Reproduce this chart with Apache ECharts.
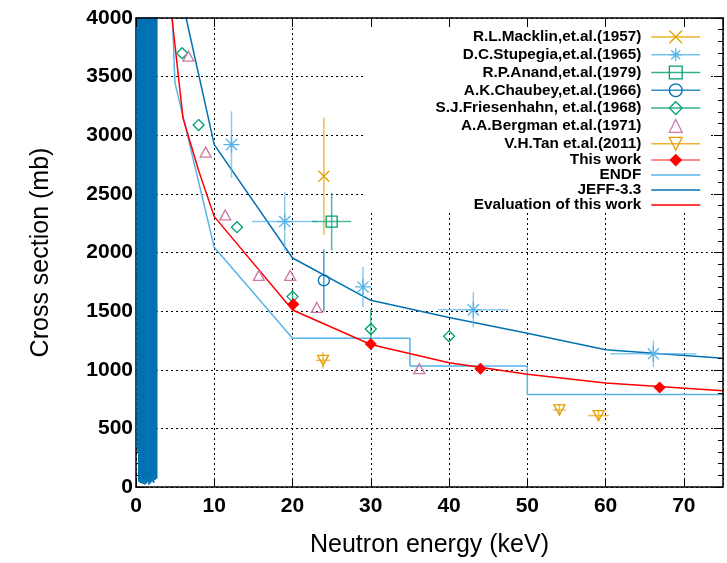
<!DOCTYPE html>
<html><head><meta charset="utf-8">
<script src="https://cdn.jsdelivr.net/npm/echarts@6/dist/echarts.min.js"></script>
<style>html,body{margin:0;padding:0;background:#fff}#c{width:727px;height:563px}</style>
</head><body><div id="c"></div>
<script>
// ---------- data ----------
const xTickLabels = [0, 10, 20, 30, 40, 50, 60, 70];
const yTickLabels = [0, 500, 1000, 1500, 2000, 2500, 3000, 3500, 4000];

// R.L.Macklin (1957)
const macklinE = [24.0], macklinXS = [2650], macklinDX = [0], macklinDY = [500];
// D.C.Stupegia (1965)
const stupE = [12.2, 19.0, 29.0, 43.1, 66.1];
const stupXS = [2920, 2264, 1706, 1511, 1136];
const stupDX = [0, 4.2, 0, 4.5, 5.5];
const stupDY = [283, 250, 170, 150, 113];
// R.P.Anand (1979)
const anandE = [25.0], anandXS = [2264], anandDX = [2.5], anandDY = [245];
// A.K.Chaubey (1966)
const chaubeyE = [24.0], chaubeyXS = [1762], chaubeyDX = [0], chaubeyDY = [265];
// S.J.Friesenhahn (1968)
const friesE = [5.9, 8.0, 12.9, 20.0, 30.0, 40.0];
const friesXS = [3700, 3087, 2216, 1624, 1347, 1285];
const friesDX = [0, 0, 0, 0, 0, 0];
const friesDY = [0, 0, 0, 60, 170, 0];
// A.A.Bergman (1971)
const bergE = [6.7, 8.9, 11.4, 15.7, 19.7, 23.1, 36.2];
const bergXS = [3675, 2856, 2320, 1804, 1804, 1531, 1009];
// V.H.Tan (2011)
const tanE = [23.9, 54.1, 59.1], tanXS = [1080, 657, 609];
const tanDX = [0.9, 0.8, 1.3], tanDY = [70, 50, 50];
// This work
const thisE = [20.1, 30.0, 44.0, 66.9], thisXS = [1559, 1220, 1009, 848];
const thisDX = [0, 0, 0, 0], thisDY = [35, 30, 25, 20];

// ENDF
const endfE = [4.5, 4.65, 4.98, 8.5, 10, 20, 35, 35, 50, 50, 75];
const endfXS = [4250, 4000, 3447, 2461, 2044, 1268, 1268, 1032, 1032, 789, 789];
// JEFF-3.3 resolved resonance region (peaks and dips)
const jeffResE = [0.10,0.15,0.20,0.25,0.30,0.35,0.40,0.45,0.50,0.55,0.60,0.65,0.70,0.75,0.80,0.85,0.90,0.95,1.00,1.05,1.10,1.15,1.20,1.25,1.30,1.35,1.40,1.45,1.50,1.55,1.60,1.65,1.70,1.75,1.80,1.85,1.90,1.95,2.00,2.05,2.10,2.15,2.20,2.25,2.30,2.35,2.40,2.45,2.50,2.55,2.60,2.65,2.68];
const jeffResXS = [9000,330,9000,300,9000,45,9000,60,9000,35,9000,80,9000,30,9000,50,9000,25,9000,70,9000,20,9000,45,9000,30,9000,85,9000,40,9000,20,9000,55,9000,30,9000,90,9000,45,9000,70,9000,35,9000,110,9000,60,9000,80,9000,70,9000];
// JEFF-3.3 smooth part
const jeffE = [5.5, 6.4, 10, 20, 30, 40, 50, 60, 75];
const jeffXS = [4270, 4000, 2920, 1953, 1592, 1446, 1311, 1170, 1099];
// Evaluation of this work
const evalE = [4.3, 6, 8, 10, 20, 30, 40, 50, 60, 75];
const evalXS = [4180, 3150, 2700, 2306, 1510, 1215, 1060, 961, 888, 820];

// ---------- style ----------
const C = { orange:'#e69f00', lblue:'#56b4e9', green:'#009e73', dblue:'#0072b2', pink:'#cc79a7', red:'#ff0000' };
const FONT = 'Liberation Sans, Arial, sans-serif';
const SYM = {
  cross: 'path://M0,0L10,10M0,10L10,0',
  star: 'path://M5,0L5,10M0,5L10,5M1.5,1.5L8.5,8.5M1.5,8.5L8.5,1.5',
  square: 'path://M0,0L10,0L10,10L0,10Z',
  circle: 'path://M10,5A5,5,0,1,1,0,5A5,5,0,1,1,10,5Z',
  diamond: 'path://M5,0L10,5L5,10L0,5Z',
  tri: 'path://M5,0L10,9L0,9Z',
  itri: 'path://M0,0L10,0L5,9Z'
};

const pairs = (E, Y) => E.map((e, i) => [e, Y[i]]);

function markerSeries(name, color, sym, size, E, Y, filled) {
  return {
    type: 'line', name, data: pairs(E, Y), z: 5,
    symbol: sym, symbolSize: size, showSymbol: true, showAllSymbol: true,
    itemStyle: { color: filled ? color : 'none', borderColor: color, borderWidth: filled ? 0 : 1.3 },
    lineStyle: { width: 0, color: color },
    emphasis: { disabled: true }, animation: false
  };
}
function errSeries(name, color, E, Y, DX, DY) {
  return {
    type: 'custom', name: name + ' err', z: 4, silent: true, animation: false, clip: true,
    data: E.map((e, i) => [e, Y[i], DX[i], DY[i]]),
    encode: { x: 0, y: 1 },
    renderItem(params, api) {
      const x = api.value(0), y = api.value(1), dx = api.value(2), dy = api.value(3);
      const ch = [];
      const st = { stroke: color, lineWidth: 1.5, opacity: 0.7 };
      if (dy > 0) { const a = api.coord([x, y - dy]), b = api.coord([x, y + dy]);
        ch.push({ type: 'line', shape: { x1: a[0], y1: a[1], x2: b[0], y2: b[1] }, style: st }); }
      if (dx > 0) { const a = api.coord([x - dx, y]), b = api.coord([x + dx, y]);
        ch.push({ type: 'line', shape: { x1: a[0], y1: a[1], x2: b[0], y2: b[1] }, style: st }); }
      return { type: 'group', children: ch };
    }
  };
}
function lineSeries(name, color, data, width) {
  return { type: 'line', name, data, symbol: 'none', showSymbol: false, z: 3,
    lineStyle: { color, width }, itemStyle: { color }, emphasis: { disabled: true }, animation: false };
}

const names = ['R.L.Macklin,et.al.(1957)', 'D.C.Stupegia,et.al.(1965)', 'R.P.Anand,et.al.(1979)',
  'A.K.Chaubey,et.al.(1966)', 'S.J.Friesenhahn, et.al.(1968)', 'A.A.Bergman et.al.(1971)',
  'V.H.Tan et.al.(2011)', 'This work', 'ENDF', 'JEFF-3.3', 'Evaluation of this work'];

const series = [
  lineSeries(names[8], C.lblue, pairs(endfE, endfXS), 1.5),
  lineSeries(names[9], C.dblue, pairs(jeffResE, jeffResXS).concat(pairs(jeffE, jeffXS)), 1.5),
  lineSeries(names[10], C.red, pairs(evalE, evalXS), 1.5),
  errSeries(names[0], C.orange, macklinE, macklinXS, macklinDX, macklinDY),
  errSeries(names[1], C.lblue, stupE, stupXS, stupDX, stupDY),
  errSeries(names[2], C.green, anandE, anandXS, anandDX, anandDY),
  errSeries(names[3], C.dblue, chaubeyE, chaubeyXS, chaubeyDX, chaubeyDY),
  errSeries(names[4], C.green, friesE, friesXS, friesDX, friesDY),
  errSeries(names[6], C.orange, tanE, tanXS, tanDX, tanDY),
  errSeries(names[7], C.red, thisE, thisXS, thisDX, thisDY),
  markerSeries(names[0], C.orange, SYM.cross, 11, macklinE, macklinXS),
  markerSeries(names[1], C.lblue, SYM.star, 16, stupE, stupXS),
  markerSeries(names[2], C.green, SYM.square, 11, anandE, anandXS),
  markerSeries(names[3], C.dblue, SYM.circle, 11, chaubeyE, chaubeyXS),
  markerSeries(names[4], C.green, SYM.diamond, 11, friesE, friesXS),
  markerSeries(names[5], C.pink, SYM.tri, [11, 10], bergE, bergXS),
  markerSeries(names[6], C.orange, SYM.itri, [11, 10], tanE, tanXS),
  markerSeries(names[7], C.red, SYM.diamond, 12, thisE, thisXS, true)
];

const legendData = [
  { name: names[0], lineStyle: { width: 1.5, color: C.orange, opacity: 0.8 }, itemStyle: { borderWidth: 1.3 } },
  { name: names[1], lineStyle: { width: 1.5, color: C.lblue, opacity: 0.8 }, itemStyle: { borderWidth: 1.3 } },
  { name: names[2], lineStyle: { width: 1.5, color: C.green, opacity: 0.8 }, itemStyle: { borderWidth: 1.3 } },
  { name: names[3], lineStyle: { width: 1.5, color: C.dblue, opacity: 0.8 }, itemStyle: { borderWidth: 1.3 } },
  { name: names[4], lineStyle: { width: 1.5, color: C.green, opacity: 0.8 }, itemStyle: { borderWidth: 1.3 } },
  { name: names[5], lineStyle: { width: 0 }, itemStyle: { borderWidth: 1.3 } },
  { name: names[6], lineStyle: { width: 1.5, color: C.orange, opacity: 0.8 }, itemStyle: { borderWidth: 1.3 } },
  { name: names[7], lineStyle: { width: 1.5, color: '#ff6060', opacity: 1 } },
  { name: names[8], lineStyle: { width: 1.5, color: C.lblue, opacity: 1 }, itemStyle: { opacity: 0 } },
  { name: names[9], lineStyle: { width: 1.5, color: C.dblue, opacity: 1 }, itemStyle: { opacity: 0 } },
  { name: names[10], lineStyle: { width: 1.5, color: C.red, opacity: 1 }, itemStyle: { opacity: 0 } }
];

const axisLineStyle = { color: '#000', width: 1.5 };
const gridLine = { show: true, lineStyle: { color: '#000', type: [2, 3], width: 1 } };

const option = {
  animation: false,
  backgroundColor: '#fff',
  grid: { left: 136, top: 18, width: 587, height: 473, containLabel: false },
  xAxis: [
    { type: 'value', min: 0, max: 75, interval: 10, position: 'bottom',
      name: 'Neutron energy (keV)', nameLocation: 'middle', nameGap: 46,
      nameTextStyle: { fontSize: 25, color: '#000', fontFamily: FONT },
      axisLine: { show: true, onZero: false, lineStyle: axisLineStyle },
      axisTick: { show: true, inside: true, length: 9, lineStyle: { color: '#000', width: 1 } },
      axisLabel: { fontSize: 21, fontWeight: 'bold', color: '#000', fontFamily: FONT, margin: 9, showMaxLabel: false,
        formatter: v => (xTickLabels.indexOf(v) >= 0 ? String(v) : '') },
      splitLine: gridLine },
    { type: 'value', min: 0, max: 75, interval: 10, position: 'top', z: 10,
      axisLine: { show: true, onZero: false, lineStyle: axisLineStyle },
      axisTick: { show: true, inside: true, length: 9, lineStyle: { color: '#000', width: 1 } },
      axisLabel: { show: false }, splitLine: { show: false } }
  ],
  yAxis: [
    { type: 'value', min: 0, max: 4000, interval: 500, position: 'left',
      name: 'Cross section (mb)', nameLocation: 'middle', nameGap: 82,
      nameTextStyle: { fontSize: 25, color: '#000', fontFamily: FONT },
      axisLine: { show: true, onZero: false, lineStyle: axisLineStyle },
      axisTick: { show: true, inside: true, length: 9, lineStyle: { color: '#000', width: 1 } },
      minorTick: { show: true, splitNumber: 5, length: 5, lineStyle: { color: '#000', width: 1 } },
      axisLabel: { fontSize: 21, fontWeight: 'bold', color: '#000', fontFamily: FONT, margin: 3,
        formatter: v => (yTickLabels.indexOf(v) >= 0 ? String(v) : '') },
      splitLine: gridLine },
    { type: 'value', min: 0, max: 4000, interval: 500, position: 'right', z: 10,
      axisLine: { show: true, onZero: false, lineStyle: axisLineStyle },
      axisTick: { show: true, inside: true, length: 9, lineStyle: { color: '#000', width: 1 } },
      minorTick: { show: true, splitNumber: 5, length: 5, lineStyle: { color: '#000', width: 1 } },
      axisLabel: { show: false }, splitLine: { show: false } }
  ],
  legend: {
    orient: 'vertical', align: 'right', right: 19, top: 19,
    padding: [9, 7, 0, 72], backgroundColor: '#fff',
    itemWidth: 49, itemHeight: 16, itemGap: 0, selectedMode: false,
    textStyle: { fontSize: 15.3, fontWeight: 'bold', color: '#000', fontFamily: FONT, padding: [0, 5, 0, 0] },
    data: legendData
  },
  series
};

const chart = echarts.init(document.getElementById('c'), null, { renderer: 'canvas' });
chart.setOption(option);
</script></body></html>
